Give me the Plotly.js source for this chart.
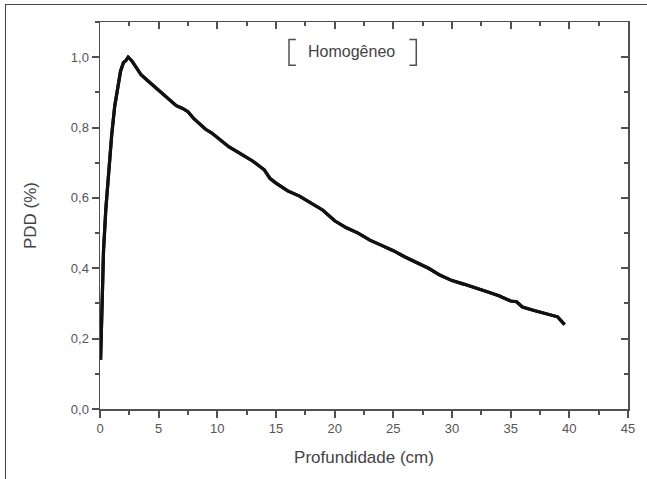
<!DOCTYPE html>
<html>
<head>
<meta charset="utf-8">
<script src="https://cdn.plot.ly/plotly-3.0.1.min.js"></script>
<style>
html,body{margin:0;padding:0;background:#fff;}
#wrap{position:relative;width:647px;height:479px;overflow:hidden;background:#fff;}
#chart{position:absolute;left:0;top:0;width:647px;height:479px;}
#frame{position:absolute;left:5px;top:4px;width:700px;height:600px;border-left:1.5px solid #444;border-top:1.5px solid #444;pointer-events:none;}
</style>
</head>
<body>
<div id="wrap"><div id="chart"></div><div id="frame"></div></div>
<script>
const depth = [0.05, 0.15, 0.3, 0.5, 0.75, 1.0, 1.25, 1.5, 1.75, 2.0, 2.2, 2.4, 2.7, 3.0, 3.5, 4.0, 4.5, 5.0, 5.5, 6.0, 6.5, 7.0, 7.5, 8.0, 8.5, 9.0, 9.5, 10.0, 10.5, 11.0, 12.0, 13.0, 14.0, 14.5, 15.0, 16.0, 17.0, 18.0, 19.0, 20.0, 21.0, 22.0, 23.0, 24.0, 25.0, 26.0, 27.0, 28.0, 29.0, 30.0, 31.0, 32.0, 33.0, 34.0, 35.0, 35.5, 36.0, 37.0, 38.0, 39.0, 39.6];
const pdd = [0.14, 0.31, 0.45, 0.57, 0.69, 0.78, 0.86, 0.91, 0.96, 0.985, 0.99, 1.0, 0.99, 0.975, 0.95, 0.935, 0.92, 0.905, 0.89, 0.875, 0.862, 0.855, 0.845, 0.825, 0.81, 0.795, 0.785, 0.772, 0.76, 0.745, 0.725, 0.705, 0.68, 0.655, 0.642, 0.62, 0.605, 0.585, 0.565, 0.535, 0.515, 0.5, 0.48, 0.465, 0.45, 0.432, 0.415, 0.4, 0.38, 0.365, 0.355, 0.345, 0.333, 0.322, 0.307, 0.305, 0.29, 0.28, 0.272, 0.262, 0.24];
const seriesName = "Homogêneo";
const xTitle = "Profundidade (cm)";
const yTitle = "PDD (%)";

const FONT = '"Liberation Sans", Arial, sans-serif';
const axCol = '#505050';
const tickFont = {family: FONT, size: 13, color: '#555'};

const traces = [
  {x: depth, y: pdd, type: 'scatter', mode: 'lines', name: seriesName,
   line: {color: '#111', width: 3.2}, hoverinfo: 'skip', showlegend: false},
  {x: depth, y: pdd, type: 'scatter', mode: 'lines', xaxis: 'x2', yaxis: 'y2',
   line: {color: '#111', width: 3.2}, hoverinfo: 'skip', showlegend: false}
];

const majLen = 7, minLen = 4, tw = 2;
const layout = {
  width: 647, height: 479,
  margin: {l: 100, r: 19, t: 22, b: 70},
  paper_bgcolor: 'rgba(0,0,0,0)', plot_bgcolor: 'rgba(0,0,0,0)',
  separators: ',.',
  showlegend: false,
  xaxis: {
    range: [0, 45], dtick: 5, tick0: 0, showgrid: false, zeroline: false,
    showline: true, linecolor: axCol, linewidth: 1.5,
    ticks: 'outside', ticklen: majLen, tickwidth: tw, tickcolor: axCol,
    minor: {dtick: 2.5, ticks: 'outside', ticklen: minLen, tickwidth: tw, tickcolor: axCol, showgrid: false},
    tickfont: tickFont,
    title: {text: xTitle, font: {family: FONT, size: 17, color: '#444'}, standoff: 16}
  },
  yaxis: {
    range: [0, 1.1], dtick: 0.2, tick0: 0, tickformat: '.1f', showgrid: false, zeroline: false,
    showline: true, linecolor: axCol, linewidth: 1.5,
    ticks: 'outside', ticklen: majLen, tickwidth: tw, tickcolor: axCol,
    minor: {dtick: 0.1, ticks: 'outside', ticklen: minLen, tickwidth: tw, tickcolor: axCol, showgrid: false},
    tickfont: tickFont,
    title: {text: yTitle, font: {family: FONT, size: 17, color: '#444'}, standoff: 30}
  },
  xaxis2: {
    overlaying: 'x', side: 'top', anchor: 'y2', range: [0, 45], dtick: 5, tick0: 0, tickmode: 'linear',
    showgrid: false, zeroline: false, showticklabels: false,
    showline: true, linecolor: axCol, linewidth: 1.5,
    ticks: 'inside', ticklen: majLen, tickwidth: tw, tickcolor: axCol,
    minor: {dtick: 2.5, ticks: 'inside', ticklen: minLen, tickwidth: tw, tickcolor: axCol, showgrid: false}
  },
  yaxis2: {
    overlaying: 'y', side: 'right', anchor: 'x2', range: [0, 1.1], dtick: 0.2, tick0: 0, tickmode: 'linear',
    showgrid: false, zeroline: false, showticklabels: false,
    showline: true, linecolor: axCol, linewidth: 1.5,
    ticks: 'inside', ticklen: majLen, tickwidth: tw, tickcolor: axCol,
    minor: {dtick: 0.1, ticks: 'inside', ticklen: minLen, tickwidth: tw, tickcolor: axCol, showgrid: false}
  },
  annotations: [{
    xref: 'paper', yref: 'paper', x: 0.476, y: 0.925, xanchor: 'center', yanchor: 'middle',
    text: seriesName, showarrow: false,
    font: {family: FONT, size: 16, color: '#444'}
  }],
  shapes: [
    {type: 'path', xref: 'paper', yref: 'paper', path: 'M 0.371,0.955 L 0.358,0.955 L 0.358,0.888 L 0.371,0.888', line: {color: axCol, width: 1.5}},
    {type: 'path', xref: 'paper', yref: 'paper', path: 'M 0.586,0.955 L 0.599,0.955 L 0.599,0.888 L 0.586,0.888', line: {color: axCol, width: 1.5}}
  ]
};

Plotly.newPlot('chart', traces, layout, {displayModeBar: false, staticPlot: true});
</script>
</body>
</html>
